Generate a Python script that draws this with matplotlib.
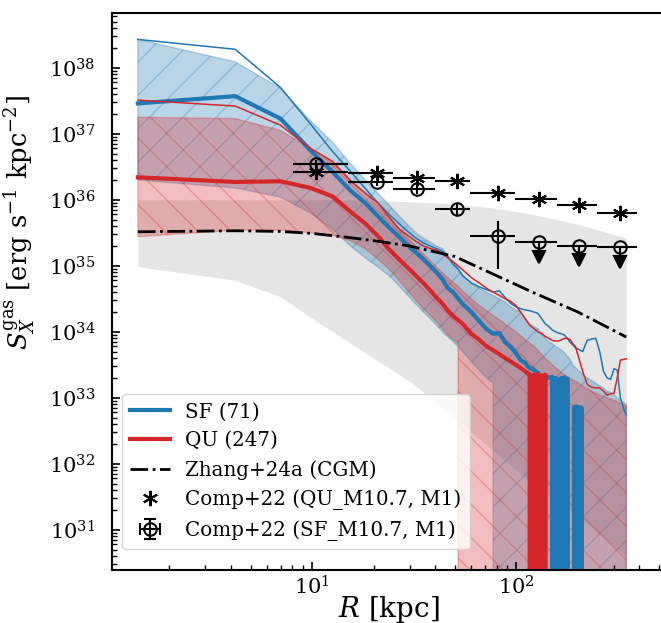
import numpy as np
import matplotlib
matplotlib.use('Agg')
import matplotlib.pyplot as plt
from matplotlib.colors import to_rgba
from matplotlib.ticker import LogLocator

plt.rcParams['font.family'] = 'DejaVu Serif'
plt.rcParams['mathtext.fontset'] = 'dejavuserif'
plt.rcParams['hatch.linewidth'] = 1.0
plt.rcParams['axes.linewidth'] = 1.5

NONE = -np.inf  # empty radial bin (S_X = 0), log10 value

# radial bins shared by the percentile bands and the mean profiles [kpc]
r_kpc = [1.4, 4.2, 7.0, 9.8, 12.6, 15.4, 18.2, 21.0, 23.8, 26.6, 29.4, 32.2, 35.0, 37.8, 40.6, 43.4, 46.2, 49.0, 51.8,
         54.6, 60.2, 65.8, 71.4, 77.0, 82.6, 88.2, 93.8, 99.4, 105.0, 110.6, 116.2, 121.8, 127.4, 133.0, 138.6,
         144.2, 149.8, 155.4, 161.0, 166.6, 172.2, 177.8, 183.4, 189.0, 194.6, 200.2,
         211.4, 222.6, 233.8, 245.0, 256.2, 267.4, 278.6, 289.8, 301.0, 312.2, 323.4, 334.6, 345.8]

# log10 S_X [erg/s/kpc^2]
sf_mean = [38.43, 38.28, 37.70, 37.15, 36.73, 36.43, 36.17, 35.95, 35.78, 35.64, 35.52, 35.42, 35.35, 35.30, 35.26, 35.22, 35.14, 35.02, 34.95,
           34.85, 34.74, 34.68, 34.64, 34.60, 34.62, 34.52, 34.43, 34.38, 34.35, 34.33, 34.32, 34.30, 34.28, 34.20, 34.12,
           34.08, 34.03, 34.00, 33.98, 33.97, 33.95, 33.90, 33.84, 33.80, 33.76, 33.74,
           33.70, 33.87, 33.89, 33.90, 33.70, 33.40, 33.30, 33.28, 33.44, 33.42, 33.00, 32.85, 32.74]
sf_p84 = [38.43, 38.09, 37.69, 37.20, 36.87, 36.55, 36.30, 36.10, 35.92, 35.76, 35.62, 35.50, 35.42, 35.36, 35.30, 35.26, 35.16, 35.06, 34.97,
          34.86, 34.74, 34.66, 34.60, 34.55, 34.50, 34.45, 34.38, 34.33, 34.30, 34.20, 34.12, 34.08, 34.05, 33.98, 33.90,
          33.85, 33.82, 33.78, 33.75, 33.72, 33.68, 33.63, 33.58, 33.50, 33.46, 33.42,
          33.36, 33.30, 33.26, 33.22, 33.18, 33.15, 33.10, 33.08, 33.05, 33.00, 32.96, 32.93, 32.90]
sf_p16 = [36.30, 36.18, 36.04, 35.80, 35.55, 35.30, 35.12, 34.98, 34.85, 34.70, 34.55, 34.42, 34.30, 34.20, 34.10, 34.00, 33.92, 33.85, 33.78,
          33.70, 33.55, 33.42, 33.30, 33.22, NONE, NONE, NONE, NONE, NONE, NONE, NONE, NONE, NONE, NONE, NONE,
          NONE, NONE, NONE, NONE, NONE, NONE, NONE, NONE, NONE, NONE, NONE,
          NONE, NONE, NONE, NONE, NONE, NONE, NONE, NONE, NONE, NONE, NONE, NONE, NONE]
qu_mean = [37.51, 37.42, 37.13, 36.78, 36.58, 36.29, 36.10, 35.95, 35.74, 35.56, 35.46, 35.37, 35.30, 35.26, 35.24, 35.18, 35.12, 35.06, 35.00,
           34.94, 34.82, 34.74, 34.66, 34.60, 34.55, 34.50, 34.46, 34.40, 34.30, 34.20, 34.10, 34.05, 34.00, 33.97, 33.93,
           33.90, 33.87, 33.86, 33.86, 33.88, 33.90, 33.90, 33.88, 33.82, 33.78, 33.65,
           33.40, 33.20, 33.16, 33.15, 33.15, 33.10, 33.04, 33.06, 33.07, 33.30, 33.57, 33.58, 33.59]
qu_p84 = [37.25, 37.23, 37.05, 36.78, 36.55, 36.30, 36.10, 35.90, 35.72, 35.56, 35.42, 35.30, 35.18, 35.08, 34.98, 34.90, 34.82, 34.75, 34.69,
          34.62, 34.50, 34.40, 34.32, 34.25, 34.18, 34.12, 34.06, 34.00, 33.94, 33.88, 33.83, 33.78, 33.72, 33.66, 33.60,
          33.55, 33.50, 33.46, 33.42, 33.38, 33.35, 33.32, 33.30, 33.27, 33.25, 33.23,
          33.18, 33.14, 33.10, 33.07, 33.04, 33.02, 33.00, 32.98, 32.96, 32.94, 32.92, 32.90, 32.88]
qu_p16 = [35.44, 35.54, 35.54, 35.50, 35.46, 35.38, 35.26, 35.10, 34.95, 34.78, 34.62, 34.48, 34.35, 34.25, 34.15, 34.05, 33.95, 33.88, 33.84,
          NONE, NONE, NONE, NONE, NONE, NONE, NONE, NONE, NONE, NONE, NONE, NONE, NONE, NONE, NONE, NONE,
          NONE, NONE, NONE, NONE, NONE, NONE, NONE, NONE, NONE, NONE, NONE,
          NONE, NONE, NONE, NONE, NONE, NONE, NONE, NONE, NONE, NONE, NONE, NONE, NONE]

# median profiles, on the native 2.8 kpc bins where they break up
r_med = [1.4, 4.2, 7.0, 9.8, 12.6, 15.4, 18.2, 21.0, 23.8, 26.6, 29.4, 32.2, 35.0, 37.8, 40.6, 43.4, 46.2, 49.0,
         54.6, 60.2, 65.8, 71.4, 77.0, 82.6, 88.2, 93.8, 99.4, 105.0, 110.6,
         113.4, 116.2, 119.0, 121.8, 124.6, 127.4, 130.2, 133.0, 135.8, 138.6,
         141.4, 144.2, 147.0, 149.8, 152.6, 155.4, 158.2, 161.0, 163.8, 166.6,
         169.4, 172.2, 175.0, 177.8, 180.6, 183.4, 186.2, 189.0, 191.8, 194.6,
         197.4, 200.2, 203.0, 205.8, 208.6, 211.4, 214.2]
sf_med = [37.46, 37.57, 37.23, 36.75, 36.42, 36.14, 35.95, 35.75, 35.58, 35.44, 35.31, 35.20, 35.10, 35.00, 34.90, 34.80, 34.66, 34.60,
          34.42, 34.30, 34.16, 34.04, 33.97, 33.98, 33.84, 33.77, 33.68, 33.57, 33.53,
          33.48, 33.45, 33.44, 33.42, 33.40, 33.38, 33.34, 33.30, 33.33, 33.34,
          33.32, 33.30, 33.31, 33.32, NONE, 33.30, NONE, 33.28, NONE, 33.30,
          NONE, 33.31, NONE, 33.29, NONE, NONE, NONE, NONE, 32.86, NONE,
          32.87, NONE, 32.86, NONE, 32.85, NONE, NONE]
qu_med = [36.34, 36.27, 36.28, 36.18, 36.05, 35.82, 35.64, 35.45, 35.25, 35.10, 34.97, 34.85, 34.74, 34.63, 34.52, 34.43, 34.32, 34.24,
          34.12, 33.97, 33.88, 33.78, 33.72, 33.66, 33.60, 33.55, 33.50, 33.45, 33.40,
          33.37, 33.36, NONE, 33.35, NONE, 33.36, NONE, 33.34, NONE, 33.35,
          NONE, NONE, NONE, NONE, NONE, NONE, NONE, NONE, NONE, NONE,
          NONE, NONE, NONE, NONE, NONE, NONE, NONE, NONE, NONE, NONE,
          NONE, NONE, NONE, NONE, NONE, NONE, NONE]

# Zhang+24a CGM profile and its range
zh_r = [1.4, 4.2, 7.0, 10.0, 15.0, 20.0, 30.0, 50.0, 80.0, 120.0, 200.0, 345.8]
zh_mid = [35.515, 35.53, 35.52, 35.49, 35.43, 35.38, 35.30, 35.14, 34.85, 34.60, 34.30, 33.92]
zh_hi = [36.0, 36.0, 36.0, 36.0, 36.0, 35.99, 35.97, 35.94, 35.87, 35.78, 35.63, 35.42]
zh_lo = [34.985, 34.78, 34.53, 34.20, 33.85, 33.60, 33.25, 32.70, 32.15, 31.70, 31.20, 30.60]

# Comp+22 stacked profiles (M10.7, M1)
comp_r = [10.5, 20.8, 32.6, 51.2, 80.9, 128.5, 203.6, 323.6]
comp_r_lo = [8.07, 15.0, 24.9, 40.1, 59.5, 98.9, 158.8, 247.5]
comp_r_hi = [15.0, 24.9, 40.1, 59.5, 98.9, 158.8, 247.5, 390.0]
comp_qu = [36.42, 36.40, 36.33, 36.29, 36.11, 36.01, 35.92, 35.80]
comp_sf = [36.54, 36.27, 36.16, 35.86, 35.45, 35.36, 35.30, 35.28]
comp_sf_lo = [36.48, 36.21, 36.09, 35.77, 34.95, 35.14, 35.09, 35.06]
comp_sf_hi = [36.60, 36.33, 36.23, 35.95, 35.68, 35.36, 35.30, 35.28]
comp_sf_uplim = [False, False, False, False, False, True, True, True]

blue = '#1f77b4'
red = '#d62728'


def lin(a):
    return 10.0 ** np.asarray(a, dtype=float)


fig = plt.figure(figsize=(6.61, 6.23), dpi=100)
ax = fig.add_axes([112 / 661, 53 / 623, 553 / 661, 557 / 623])
ax.set_xscale('log')
ax.set_yscale('log')

ax.fill_between(zh_r, lin(zh_lo), lin(zh_hi), color='gray', alpha=0.2, linewidth=0, zorder=0.5)

ax.fill_between(r_kpc, lin(sf_p16), lin(sf_p84), facecolor=to_rgba(blue, 0.3),
                edgecolor=to_rgba(blue, 0.3), hatch='/', linewidth=1.0, zorder=1)
ax.fill_between(r_kpc, lin(qu_p16), lin(qu_p84), facecolor=to_rgba(red, 0.3),
                edgecolor=to_rgba(red, 0.3), hatch='\\', linewidth=1.0, zorder=1)

h_sf, = ax.plot(r_med, lin(sf_med), color=blue, lw=3.0, label='SF (71)', zorder=2)
ax.plot(r_kpc, lin(sf_mean), color=blue, lw=1.1, zorder=2)
h_qu, = ax.plot(r_med, lin(qu_med), color=red, lw=3.0, label='QU (247)', zorder=2)
ax.plot(r_kpc, lin(qu_mean), color=red, lw=1.1, zorder=2)

h_zh, = ax.plot(zh_r, lin(zh_mid), color='k', ls='-.', lw=2.0, label='Zhang+24a (CGM)', zorder=3)

r_c = np.array(comp_r)
xerr = [r_c - np.array(comp_r_lo), np.array(comp_r_hi) - r_c]

ax.errorbar(comp_r, lin(comp_qu), xerr=xerr, fmt='none', ecolor='k', elinewidth=1.5, zorder=4)
h_cq, = ax.plot(comp_r, lin(comp_qu), ls='none', marker=(6, 2, 0), ms=11, mew=1.5,
                color='k', label='Comp+22 (QU_M10.7, M1)', zorder=4)

s_sf = lin(comp_sf)
yerr = [s_sf - lin(comp_sf_lo), lin(comp_sf_hi) - s_sf]
h_cs = ax.errorbar(comp_r, s_sf, xerr=xerr, yerr=yerr, uplims=comp_sf_uplim, fmt='o',
                   mfc='none', mec='k', ms=9, mew=1.5, ecolor='k', elinewidth=1.5,
                   label='Comp+22 (SF_M10.7, M1)', zorder=4)
for cap in h_cs[1]:
    cap.set_marker('v')
    cap.set_markersize(8)
    cap.set_markerfacecolor('k')
    cap.set_markeredgecolor('k')

ax.set_xlim(1.046, 535)
ax.set_ylim(10 ** 30.39, 10 ** 38.83)

ax.yaxis.set_major_locator(LogLocator(base=10, numticks=20))
ax.yaxis.set_minor_locator(LogLocator(base=10, subs=np.arange(2, 10), numticks=20))
ax.tick_params(which='both', direction='in', labelsize=15)
ax.tick_params(which='major', length=6, width=1.2)
ax.tick_params(which='minor', length=3.5, width=1.0)
ax.tick_params(axis='y', which='major', pad=12)

ax.set_xlabel(r'$R$ [kpc]', fontsize=20, labelpad=-3)
ax.set_ylabel(r'$S_X^{\rm gas}$ [erg s$^{-1}$ kpc$^{-2}$]', fontsize=18.5)
ax.yaxis.set_label_coords(-0.135, 0.623)

ax.legend(handles=[h_sf, h_qu, h_zh, h_cq, h_cs], loc='lower left', fontsize=14.3,
          bbox_to_anchor=(0, 0.02))

fig.savefig('out.png', dpi=100)
